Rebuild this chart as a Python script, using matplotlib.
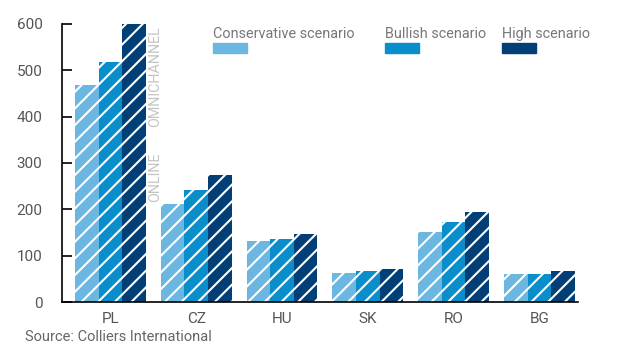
import numpy as np
import matplotlib
matplotlib.use("Agg")
import matplotlib.pyplot as plt

countries = ["PL", "CZ", "HU", "SK", "RO", "BG"]
conservative = [469, 211, 132, 62, 152, 61]
bullish = [518, 242, 136, 67, 172, 61]
high = [600, 274, 146, 72, 194, 66]
series_names = ["Conservative scenario", "Bullish scenario", "High scenario"]
colors = ["#6cb6e2", "#0a8dcb", "#023f77"]
yticks = [0, 100, 200, 300, 400, 500, 600]

plt.rcParams['font.family'] = ['Roboto', 'DejaVu Sans']
plt.rcParams['hatch.color'] = 'white'
plt.rcParams['hatch.linewidth'] = 1.5

fig = plt.figure(figsize=(6.3, 3.52), dpi=100)
ax = fig.add_axes([0.0984, 0.142, 0.819, 0.79])

x = np.arange(len(countries))
w = 0.275
for i, vals in enumerate([conservative, bullish, high]):
    ax.bar(x + (i - 1) * w, vals, w, color=colors[i], hatch='//', linewidth=0)

ax.set_xlim(-0.564, 5.448)
ax.set_ylim(0, 600)
ax.set_yticks(yticks)
ax.set_xticks(x)
ax.set_xticklabels(countries)
ax.tick_params(axis='y', direction='in', length=7, width=1.2, colors='black',
               labelcolor='#555555', labelsize=11, pad=14)
ax.tick_params(axis='x', length=0, labelcolor='#555555', labelsize=11, pad=7)
for s in ['top', 'right']:
    ax.spines[s].set_visible(False)
ax.spines['left'].set_linewidth(1.2)
ax.spines['bottom'].set_linewidth(1.2)

# legend: text above coloured patch
legend_x = [213, 385, 502]
for name, c, lx in zip(series_names, colors, legend_x):
    fig.text(lx / 630, 1 - 34 / 352, name, color='#777777', fontsize=10.4,
             va='center', ha='left')
    fig.patches.append(plt.Rectangle((lx / 630, 1 - 53 / 352), 34 / 630, 10 / 352,
                                     transform=fig.transFigure, color=c))

fig.text(155 / 630, 1 - 77 / 352, "OMNICHANNEL", rotation=90, color='#c4c4c4',
         fontsize=10.3, va='center', ha='center')
fig.text(155 / 630, 1 - 177 / 352, "ONLINE", rotation=90, color='#c4c4c4',
         fontsize=10.3, va='center', ha='center')

fig.text(25 / 630, 1 - 337 / 352, "Source: Colliers International", color='#666666',
         fontsize=10.5, va='center', ha='left')

fig.savefig("out.png", dpi=100)
